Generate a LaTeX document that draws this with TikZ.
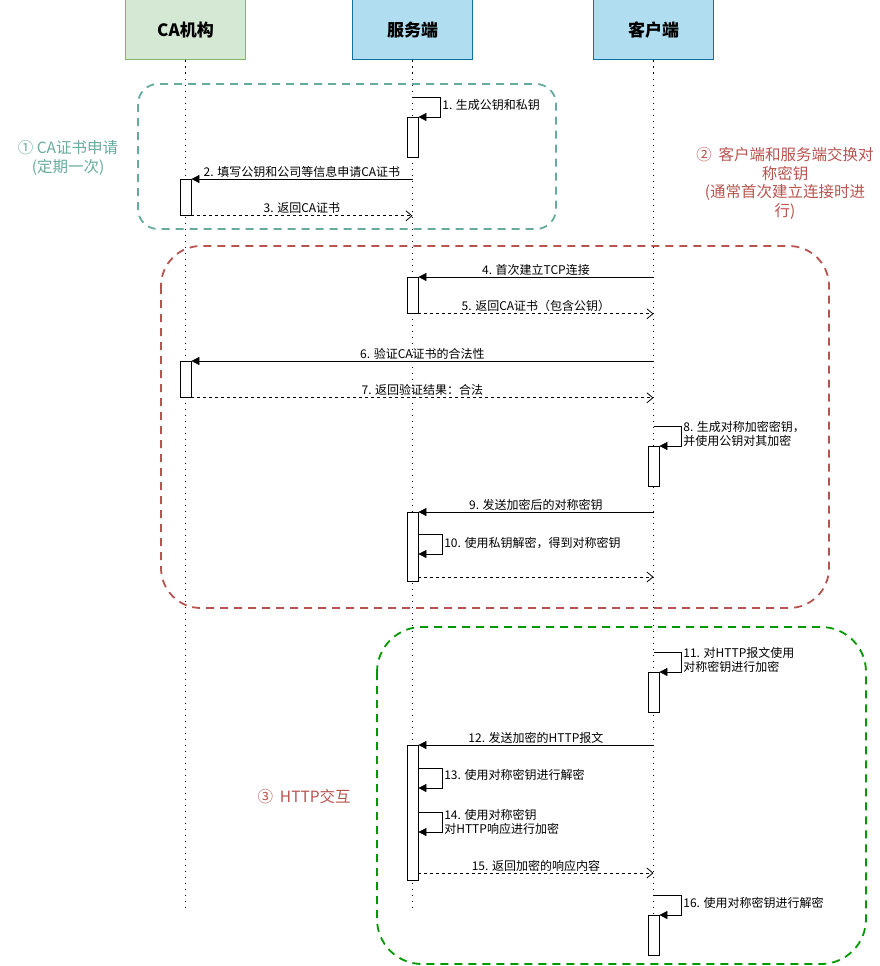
\documentclass[tikz,border=0pt]{standalone}
\usepackage{fontspec}
\setmainfont{Noto Sans CJK SC}
\usetikzlibrary{arrows.meta,positioning,calc}
\definecolor{caFill}{HTML}{D5E8D4}
\definecolor{caLine}{HTML}{82B366}
\definecolor{svFill}{HTML}{B1DDF0}
\definecolor{svLine}{HTML}{10739E}
\definecolor{grpTeal}{HTML}{67AB9F}
\definecolor{grpRed}{HTML}{B85450}
\definecolor{grpGreen}{HTML}{009900}

\begin{document}
\begin{tikzpicture}[x=1pt,y=-1pt,font=\fontsize{12}{14}\selectfont]
		\newcommand\xca{185.5}
		\newcommand\xsv{412.5}
		\newcommand\xcl{653.5}
		\newcommand\loopw{28}
		\tikzset{
		head/.style = {draw, line width=1pt, minimum width=120pt, minimum height=60pt,
			font=\fontsize{17}{20}\selectfont\bfseries},
		life/.style = {line width=1.6pt, dash pattern=on 1.6pt off 4.4pt},
		act/.style = {draw, fill=white, line width=0.8pt, minimum width=11pt,
			inner sep=0pt, anchor=north},
		call/.style = {line width=0.8pt, -{Triangle[length=8pt, width=8pt]}},
		reply/.style = {line width=0.8pt, dash pattern=on 3pt off 3pt,
			-{Straight Barb[length=6pt, width=10pt]}},
		lbl/.style = {inner sep=1.5pt, align=left},
		grp/.style = {line width=1.8pt, dash pattern=on 8pt off 6pt},
		note/.style = {font=\fontsize{15.5}{18.5}\selectfont, align=center},
	}
		\useasboundingbox (0,0) rectangle (880,966);
		% groups
		\draw[grp, grpTeal, rounded corners=20pt] (138,84) rectangle (556,229);
		\draw[grp, grpRed, rounded corners=40pt] (161,246) rectangle (829,608);
		\draw[grp, grpGreen, rounded corners=45pt] (377,627) rectangle (866,964);
		\node[note, text=grpTeal] (n1) at (68,158) {① CA证书申请\\(定期一次)};
		\node[note, text=grpRed] (n2) at (785,183.5) {②\ \ 客户端和服务端交换对\\称密钥\\ (通常首次建立连接时进\\行)};
		\node[note, text=grpRed, anchor=west] (n3) at (254,797) {③\ \ HTTP交互};
		% participants
		\node[head, fill=caFill, draw=caLine] (ca) at (\xca,30) {CA机构};
		\node[head, fill=svFill, draw=svLine] (srv) at (\xsv,30) {服务端};
		\node[head, fill=svFill, draw=svLine] (cli) at (\xcl,30) {客户端};
		\coordinate (caE) at (\xca,910);
		\coordinate (srvE) at (\xsv,910);
		\coordinate (cliE) at (\xcl,915);
		\draw[life] (ca.south) -- (caE);
		\draw[life] (srv.south) -- (srvE);
		\draw[life] (cli.south) -- (cliE);
		% activations
		\node[act, minimum height=40pt] (s1) at (\xsv,117) {};
		\node[act, minimum height=36pt] (c1) at (\xca,179) {};
		\node[act, minimum height=36pt] (s2) at (\xsv,277) {};
		\node[act, minimum height=36pt] (c2) at (\xca,361) {};
		\node[act, minimum height=40pt] (k1) at (\xcl,446) {};
		\node[act, minimum height=69pt] (s3) at (\xsv,512) {};
		\node[act, minimum height=40pt] (k2) at (\xcl,672) {};
		\node[act, minimum height=135pt] (s4) at (\xsv,745) {};
		\node[act, minimum height=40pt] (k3) at (\xcl,915) {};
		% messages
		\draw[call] (srv |- 0,97) -- ++(\loopw,0) |- (s1.north east)
			node[lbl, pos=0.25, right, yshift=2pt] {1. 生成公钥和私钥};
		\draw[call] (srv |- c1.north) -- (c1.north east)
			node[lbl, midway, above] {2. 填写公钥和公司等信息申请CA证书};
		\draw[reply] (c1.south east) -- (srv |- c1.south)
			node[lbl, midway, above] {3. 返回CA证书};
		\draw[call] (cli |- s2.north) -- (s2.north east)
			node[lbl, midway, above] {4. 首次建立TCP连接};
		\draw[reply] (s2.south east) -- (cli |- s2.south)
			node[lbl, midway, above] {5. 返回CA证书（包含公钥）};
		\draw[call] (cli |- c2.north) -- (c2.north east)
			node[lbl, midway, above] {6. 验证CA证书的合法性};
		\draw[reply] (c2.south east) -- (cli |- c2.south)
			node[lbl, midway, above] {7. 返回验证结果：合法};
		\draw[call] (cli |- 0,426) -- ++(\loopw,0) |- (k1.north east)
			node[lbl, pos=0.25, right, yshift=2pt] {8. 生成对称加密密钥，\\并使用公钥对其加密};
		\draw[call] (cli |- s3.north) -- (s3.north east)
			node[lbl, midway, above] {9. 发送加密后的对称密钥};
		\draw[call] (s3.east |- 0,534) -- ++(24,0) |- (s3.east |- 0,554)
			node[lbl, pos=0.25, right, yshift=1pt] {10. 使用私钥解密，得到对称密钥};
		\draw[reply] (s3.east |- 0,577) -- (cli |- 0,577);
		\draw[call] (cli |- 0,652) -- ++(\loopw,0) |- (k2.north east)
			node[lbl, pos=0.25, right, yshift=2pt] {11. 对HTTP报文使用\\对称密钥进行加密};
		\draw[call] (cli |- s4.north) -- (s4.north east)
			node[lbl, midway, above] {12. 发送加密的HTTP报文};
		\draw[call] (s4.east |- 0,768) -- ++(24,0) |- (s4.east |- 0,788)
			node[lbl, pos=0.25, right, yshift=3pt] {13. 使用对称密钥进行解密};
		\draw[call] (s4.east |- 0,812) -- ++(24,0) |- (s4.east |- 0,832)
			node[lbl, pos=0.25, right, yshift=0pt] {14. 使用对称密钥\\对HTTP响应进行加密};
		\draw[reply] (s4.east |- 0,873) -- (cli |- 0,873)
			node[lbl, midway, above] {15. 返回加密的响应内容};
		\draw[call] (cli |- 0,895) -- ++(\loopw,0) |- (k3.north east)
			node[lbl, pos=0.25, right, yshift=2pt] {16. 使用对称密钥进行解密};
	\end{tikzpicture}
\end{document}
